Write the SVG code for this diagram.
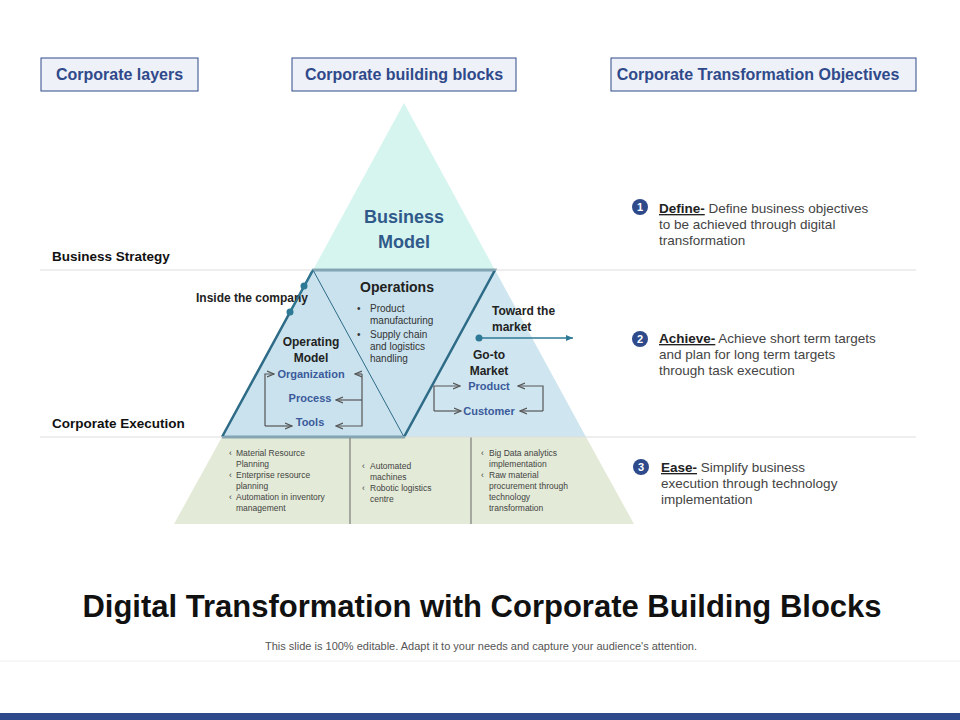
<svg xmlns="http://www.w3.org/2000/svg" width="960" height="720" viewBox="0 0 960 720">
<style>
.hb{fill:#eef1f8;stroke:#2f4a8a;stroke-width:1}
.ht{font:bold 16px "Liberation Sans",Arial,sans-serif;fill:#2f4a8a;text-anchor:middle}
.lbl{font:bold 13.5px "Liberation Sans",Arial,sans-serif;fill:#111}
.b{font:bold 12px "Liberation Sans",Arial,sans-serif;fill:#222}
.s{font:10px "Liberation Sans",Arial,sans-serif;fill:#333}
.xs{font:8.5px "Liberation Sans",Arial,sans-serif;fill:#444}
.blue{font:bold 11px "Liberation Sans",Arial,sans-serif;fill:#3b5a9a;text-anchor:middle}
.obj{font:13.5px "Liberation Sans",Arial,sans-serif;fill:#444}
.ul{font-weight:bold;text-decoration:underline;fill:#222}
.ar{fill:none;stroke:#555;stroke-width:1.2;marker-end:url(#ah)}
.num{fill:#2f4a8a}
.nt{font:bold 11px "Liberation Sans",Arial,sans-serif;fill:#fff;text-anchor:middle}
</style>
<defs>
<marker id="ah" markerWidth="8" markerHeight="8" refX="7" refY="4" orient="auto" markerUnits="userSpaceOnUse"><path d="M0,1 L7,4 L0,7" fill="none" stroke="#555" stroke-width="1.2"/></marker>
<marker id="ab" markerWidth="8" markerHeight="8" refX="7" refY="4" orient="auto" markerUnits="userSpaceOnUse"><path d="M0,1 L7,4 L0,7 z" fill="#2e7a96"/></marker>
</defs>
<rect width="960" height="720" fill="#fff"/>
<g id="headers">
<rect class="hb" x="41" y="58" width="157" height="33"/><text class="ht" x="119.5" y="80">Corporate layers</text>
<rect class="hb" x="292" y="58" width="224" height="33"/><text class="ht" x="404" y="80">Corporate building blocks</text>
<rect class="hb" x="611" y="58" width="305" height="33"/><text class="ht" x="758" y="80">Corporate Transformation Objectives</text>
</g>
<g id="pyramid">
<polygon points="404,103 313,270 495,270" fill="#d7f5ef"/>
<polygon points="313,270 495,270 586,437 222,437" fill="#cfe6f0"/>
<polygon points="222,437 586,437 634,524 174,524" fill="#e3ead7"/>
<polygon points="313,270 495,270 404,437 222,437" fill="#c9e2ee"/>
<path d="M222,437 L313,270 L495,270 L404,437 L222,437" fill="none" stroke="#2e6b86" stroke-width="2.5"/>
<line x1="313" y1="270" x2="404" y2="437" stroke="#2e6b86" stroke-width="1"/>
<line x1="350" y1="437" x2="350" y2="524" stroke="#666" stroke-width="1"/>
<line x1="471" y1="437" x2="471" y2="524" stroke="#666" stroke-width="1"/>
</g>
<g id="rows">
<line x1="40" y1="270" x2="916" y2="270" stroke="#ddd"/>
<line x1="40" y1="437" x2="916" y2="437" stroke="#ddd"/>
<text class="lbl" x="52" y="261">Business Strategy</text>
<text class="lbl" x="52" y="428">Corporate Execution</text>
</g>
<g id="business-model">
<text x="404" y="223" text-anchor="middle" style="font:bold 18px 'Liberation Sans',Arial,sans-serif;fill:#2f5a8a">Business</text>
<text x="404" y="248" text-anchor="middle" style="font:bold 18px 'Liberation Sans',Arial,sans-serif;fill:#2f5a8a">Model</text>
</g>
<g id="operations">
<text x="397" y="292" text-anchor="middle" style="font:bold 14px 'Liberation Sans',Arial,sans-serif;fill:#222">Operations</text>
<text class="s" x="357" y="312">•</text><text class="s" x="370" y="312">Product</text>
<text class="s" x="370" y="324">manufacturing</text>
<text class="s" x="357" y="338">•</text><text class="s" x="370" y="338">Supply chain</text>
<text class="s" x="370" y="350">and logistics</text>
<text class="s" x="370" y="362">handling</text>
</g>
<g id="operating-model">
<text class="b" x="311" y="346" text-anchor="middle">Operating</text>
<text class="b" x="311" y="362" text-anchor="middle">Model</text>
<text class="blue" x="311" y="378">Organization</text>
<text class="blue" x="310" y="402">Process</text>
<text class="blue" x="310" y="426">Tools</text>
</g>
<g id="go-to-market">
<text class="b" x="489" y="359" text-anchor="middle">Go-to</text>
<text class="b" x="489" y="375" text-anchor="middle">Market</text>
<text class="blue" x="489" y="390">Product</text>
<text class="blue" x="489" y="415">Customer</text>
</g>
<g id="side-labels">
<text x="252" y="302" text-anchor="middle" style="font:bold 12px 'Liberation Sans',Arial,sans-serif;fill:#222">Inside the company</text>
<text class="b" x="492" y="315">Toward the</text>
<text class="b" x="492" y="331">market</text>
</g>
<g id="execution">
<text class="xs" x="229" y="456">‹</text><text class="xs" x="236" y="456">Material Resource</text>
<text class="xs" x="236" y="467">Planning</text>
<text class="xs" x="229" y="478">‹</text><text class="xs" x="236" y="478">Enterprise resource</text>
<text class="xs" x="236" y="489">planning</text>
<text class="xs" x="229" y="500">‹</text><text class="xs" x="236" y="500">Automation in inventory</text>
<text class="xs" x="236" y="511">management</text>
<text class="xs" x="362" y="469">‹</text><text class="xs" x="370" y="469">Automated</text>
<text class="xs" x="370" y="480">machines</text>
<text class="xs" x="362" y="491">‹</text><text class="xs" x="370" y="491">Robotic logistics</text>
<text class="xs" x="370" y="502">centre</text>
<text class="xs" x="481" y="456">‹</text><text class="xs" x="489" y="456">Big Data analytics</text>
<text class="xs" x="489" y="467">implementation</text>
<text class="xs" x="481" y="478">‹</text><text class="xs" x="489" y="478">Raw material</text>
<text class="xs" x="489" y="489">procurement through</text>
<text class="xs" x="489" y="500">technology</text>
<text class="xs" x="489" y="511">transformation</text>
</g>
<g id="connectors">
<line x1="290" y1="312" x2="313" y2="270" stroke="#2e7a96" stroke-width="1.5"/>
<circle cx="304" cy="286" r="3.5" fill="#2e7a96"/>
<circle cx="290" cy="312" r="3.5" fill="#2e7a96"/>
<line x1="479" y1="338" x2="573" y2="338" stroke="#2e7a96" stroke-width="1.5" marker-end="url(#ab)"/>
<circle cx="479" cy="338" r="3.5" fill="#2e7a96"/>
<path class="ar" d="M265,426 L265,374 L274,374"/>
<path class="ar" d="M265,426 L292,426"/>
<path class="ar" d="M362,374 L362,426 L336,426"/>
<path class="ar" d="M362,374 L355,374"/>
<path class="ar" d="M362,400 L336,400"/>
<path class="ar" d="M434,411 L434,386 L460,386"/>
<path class="ar" d="M434,411 L461,411"/>
<path class="ar" d="M543,411 L543,386 L518,386"/>
<path class="ar" d="M543,411 L520,411"/>
</g>
<g id="objectives">
<circle class="num" cx="640" cy="207" r="8"/><text class="nt" x="640" y="211">1</text>
<text class="obj" x="659" y="213"><tspan class="ul">Define-</tspan>  Define business objectives</text>
<text class="obj" x="659" y="229">to be achieved through digital</text>
<text class="obj" x="659" y="245">transformation</text>
<circle class="num" cx="640" cy="339" r="8"/><text class="nt" x="640" y="343">2</text>
<text class="obj" x="659" y="343"><tspan class="ul">Achieve-</tspan> Achieve short term targets</text>
<text class="obj" x="659" y="359">and plan for long term targets</text>
<text class="obj" x="659" y="375">through task execution</text>
<circle class="num" cx="641" cy="467" r="8"/><text class="nt" x="641" y="471">3</text>
<text class="obj" x="661" y="472"><tspan class="ul">Ease-</tspan>  Simplify business</text>
<text class="obj" x="661" y="488">execution through technology</text>
<text class="obj" x="661" y="504">implementation</text>
</g>
<g id="title">
<text x="482" y="617" text-anchor="middle" style="font:bold 31px 'Liberation Sans',Arial,sans-serif;fill:#111">Digital Transformation with Corporate Building Blocks</text>
<text x="481" y="650" text-anchor="middle" style="font:11px 'Liberation Sans',Arial,sans-serif;fill:#555">This slide is 100% editable. Adapt it to your needs and capture your audience's attention.</text>
<line x1="0" y1="661" x2="960" y2="661" stroke="#f0f0f0"/>
<rect x="0" y="713" width="960" height="7" fill="#2f4a8a"/>
</g>
</svg>
